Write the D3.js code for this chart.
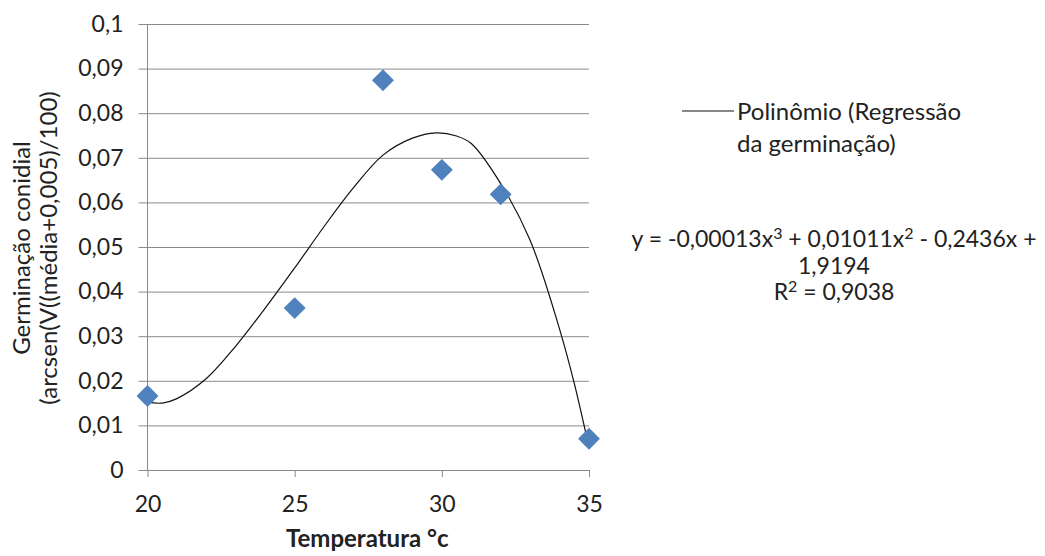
<!DOCTYPE html>
<html>
<head>
<meta charset="utf-8">
<script src="https://cdn.jsdelivr.net/npm/d3@7"></script>
<style>
  body { margin: 0; background: #fff; }
  svg { display: block; font-family: Lato, "Open Sans", sans-serif; }
</style>
</head>
<body>
<div id="chart"></div>
<script>
// observed values
const temps = [20, 25, 28, 30, 32, 35];
const germ = [0.0166, 0.0363, 0.0874, 0.0673, 0.0618, 0.0070];

// trendline
const trendX = [20, 20.5, 21, 22, 23, 24, 25, 26, 27, 28, 29, 29.8, 30.5, 31, 32, 33, 34, 34.5, 35];
const trendY = [0.0152, 0.0150, 0.0160, 0.0205, 0.0278, 0.0363, 0.0453, 0.0546, 0.0633, 0.0706, 0.0744, 0.0756, 0.0749, 0.0732, 0.0642, 0.0515, 0.0316, 0.0194, 0.0050];

const xTicks = [20, 25, 30, 35];
const yTicks = [0, 0.01, 0.02, 0.03, 0.04, 0.05, 0.06, 0.07, 0.08, 0.09, 0.1];

const legendLines = ['Polinômio (Regressão', 'da germinação)'];
// equation pieces: [text, isSuperscript]
const eqLine1 = [['y = -0,00013x', false], ['3', true], [' + 0,01011x', false], ['2', true], [' - 0,2436x +', false]];
const eqLine2 = '1,9194';
const eqLine3 = [['R', false], ['2', true], [' = 0,9038', false]];

const W = 1045, H = 556;
const plot = { left: 147.5, right: 589, top: 24, bottom: 470 };
const gridColor = '#8a8a8a';
const textColor = '#222';

const svg = d3.select('#chart')
    .append('svg')
    .attr('width', W)
    .attr('height', H);

const x = d3.scaleLinear().domain([20, 35]).range([plot.left, plot.right]);
const y = d3.scaleLinear().domain([0, 0.1]).range([plot.bottom, plot.top]);

const br = d3.formatLocale({ decimal: ',', thousands: '.', grouping: [3], currency: ['', ''] });
const fmt = br.format('.2~f');

// horizontal gridlines + y axis
const yAxis = svg.append('g')
    .attr('transform', `translate(${plot.left},0)`)
    .call(d3.axisLeft(y).tickValues(yTicks).tickFormat(fmt)
        .tickSize(-(plot.right - plot.left)).tickSizeOuter(0).tickPadding(24));
yAxis.select('.domain').remove();
yAxis.selectAll('.tick line')
    .attr('stroke', gridColor)
    .attr('x1', -9);
yAxis.selectAll('.tick text')
    .attr('font-size', 23)
    .attr('fill', textColor)
    .attr('font-family', 'Lato, sans-serif');

svg.append('line')
    .attr('x1', plot.left).attr('x2', plot.left)
    .attr('y1', plot.top).attr('y2', plot.bottom)
    .attr('stroke', gridColor);

// x axis
const xAxis = svg.append('g')
    .attr('transform', `translate(0,${plot.bottom})`)
    .call(d3.axisBottom(x).tickValues(xTicks).tickFormat(d => d)
        .tickSize(7).tickSizeOuter(0).tickPadding(19));
xAxis.select('.domain').attr('stroke', gridColor);
xAxis.selectAll('.tick line').attr('stroke', gridColor);
xAxis.selectAll('.tick text')
    .attr('font-size', 23)
    .attr('fill', textColor)
    .attr('font-family', 'Lato, sans-serif');

// trendline
const line = d3.line()
    .x((d, i) => x(trendX[i]))
    .y(d => y(d))
    .curve(d3.curveCatmullRom.alpha(0.5));

svg.append('path')
    .datum(trendY)
    .attr('d', line)
    .attr('fill', 'none')
    .attr('stroke', '#111')
    .attr('stroke-width', 1.2);

// points
const diamond = d3.symbol().type(d3.symbolSquare).size(240);
svg.append('g')
    .selectAll('path')
    .data(germ)
    .join('path')
    .attr('d', diamond)
    .attr('transform', (d, i) => `translate(${x(temps[i])},${y(d)}) rotate(45)`)
    .attr('fill', '#4f81bd');

// axis titles
svg.append('text')
    .attr('x', (plot.left + plot.right) / 2 - 1)
    .attr('y', 547)
    .attr('text-anchor', 'middle')
    .attr('font-size', 24)
    .attr('font-weight', 'bold')
    .attr('fill', textColor)
    .text('Temperatura °c');

const yTitle = svg.append('text')
    .attr('transform', 'translate(0,248) rotate(-90)')
    .attr('text-anchor', 'middle')
    .attr('font-size', 24)
    .attr('fill', textColor);
yTitle.append('tspan').attr('x', 0).attr('y', 30).text('Germinação conidial');
yTitle.append('tspan').attr('x', 0).attr('y', 57).text('(arcsen(V((média+0,005)/100)');

// legend
svg.append('line')
    .attr('x1', 682).attr('x2', 734)
    .attr('y1', 111).attr('y2', 111)
    .attr('stroke', '#111')
    .attr('stroke-width', 1.2);

svg.append('g')
    .selectAll('text')
    .data(legendLines)
    .join('text')
    .attr('x', 737)
    .attr('y', (d, i) => 120 + i * 32)
    .attr('font-size', 24)
    .attr('fill', textColor)
    .text(d => d);

// trendline equation
function eqText(pieces, yPos) {
    const t = svg.append('text')
        .attr('x', 834)
        .attr('y', yPos)
        .attr('text-anchor', 'middle')
        .attr('font-size', 23)
        .attr('fill', textColor);
    let raised = false;
    pieces.forEach(([s, sup]) => {
        const sp = t.append('tspan').text(s);
        if (sup && !raised) { sp.attr('dy', -8).attr('font-size', 16); raised = true; }
        else if (!sup && raised) { sp.attr('dy', 8); raised = false; }
    });
    return t;
}
eqText(eqLine1, 247);
eqText([[eqLine2, false]], 273.5);
eqText(eqLine3, 300);
</script>
</body>
</html>
